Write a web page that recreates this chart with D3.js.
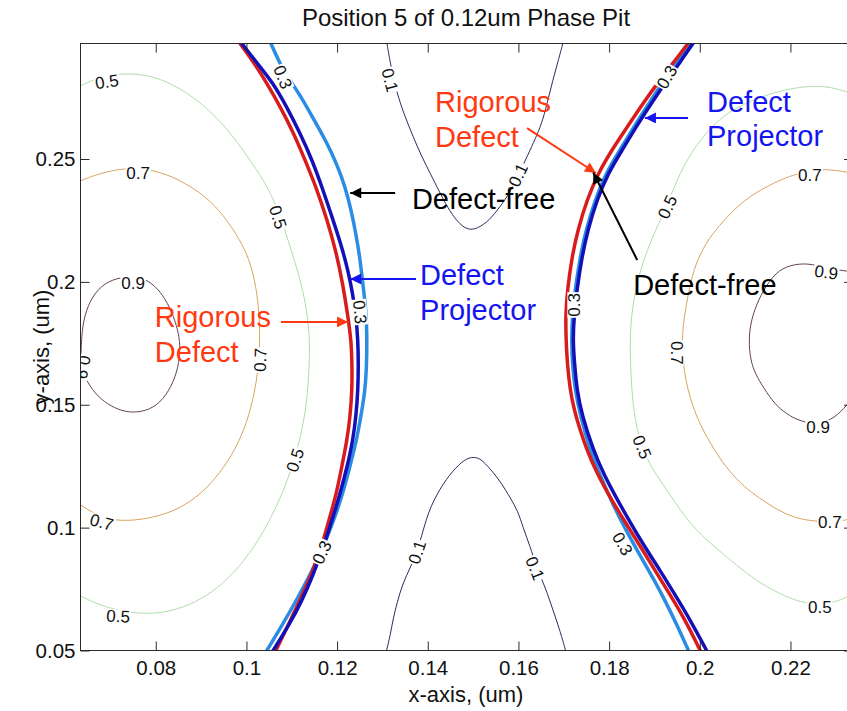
<!DOCTYPE html>
<html>
<head>
<meta charset="utf-8">
<script src="https://cdn.jsdelivr.net/npm/d3@7"></script>
<style>
  body { margin: 0; background: #fff; }
  svg { display: block; font-family: "Liberation Sans", Arial, sans-serif; }
</style>
</head>
<body>
<div id="chart"></div>
<script>
// axis ticks
const xTicks = [0.08, 0.1, 0.12, 0.14, 0.16, 0.18, 0.2, 0.22];
const yTicks = [0.05, 0.1, 0.15, 0.2, 0.25];

// thin contour lines, [x, y] in um
const c01Top = [[0.1310,0.2970],[0.1317,0.2895],[0.1326,0.2813],[0.1335,0.2752],[0.1350,0.2671],[0.1368,0.2590],[0.1385,0.2516],[0.1405,0.2443],[0.1427,0.2362],[0.1443,0.2305],[0.1465,0.2244],[0.1487,0.2211],[0.1509,0.2215],[0.1537,0.2252],[0.1559,0.2305],[0.1581,0.2362],[0.1603,0.2447],[0.1626,0.2537],[0.1641,0.2598],[0.1654,0.2659],[0.1665,0.2740],[0.1676,0.2821],[0.1687,0.2895],[0.1698,0.2970]];
const c01Bottom = [[0.1309,0.0500],[0.1317,0.0559],[0.1323,0.0624],[0.1332,0.0693],[0.1345,0.0774],[0.1361,0.0835],[0.1376,0.0900],[0.1390,0.0990],[0.1405,0.1084],[0.1434,0.1181],[0.1462,0.1246],[0.1487,0.1285],[0.1507,0.1287],[0.1520,0.1275],[0.1544,0.1226],[0.1564,0.1177],[0.1581,0.1124],[0.1599,0.1067],[0.1610,0.1002],[0.1626,0.0921],[0.1639,0.0848],[0.1650,0.0795],[0.1663,0.0738],[0.1676,0.0665],[0.1690,0.0591],[0.1704,0.0500]];
const c05Left = [[0.0634,0.2797],[0.0666,0.2826],[0.0699,0.2842],[0.0737,0.2848],[0.0776,0.2842],[0.0820,0.2821],[0.0882,0.2756],[0.0942,0.2659],[0.0993,0.2537],[0.1030,0.2435],[0.1059,0.2345],[0.1085,0.2211],[0.1107,0.2081],[0.1125,0.1967],[0.1136,0.1845],[0.1140,0.1743],[0.1138,0.1641],[0.1134,0.1519],[0.1123,0.1397],[0.1105,0.1267],[0.1081,0.1145],[0.1052,0.1031],[0.1019,0.0925],[0.0975,0.0819],[0.0926,0.0738],[0.0876,0.0685],[0.0820,0.0653],[0.0765,0.0649],[0.0710,0.0665],[0.0666,0.0693],[0.0634,0.0722]];
const c07Left = [[0.0634,0.2411],[0.0677,0.2443],[0.0732,0.2463],[0.0776,0.2459],[0.0820,0.2443],[0.0882,0.2386],[0.0931,0.2313],[0.0968,0.2223],[0.1001,0.2122],[0.1019,0.2008],[0.1028,0.1886],[0.1030,0.1763],[0.1026,0.1641],[0.1017,0.1540],[0.1001,0.1426],[0.0975,0.1316],[0.0942,0.1222],[0.0898,0.1133],[0.0854,0.1080],[0.0809,0.1047],[0.0750,0.1027],[0.0699,0.1031],[0.0666,0.1055],[0.0634,0.1092]];
const c09Left = [[0.0635,0.1702],[0.0637,0.1804],[0.0646,0.1886],[0.0666,0.1959],[0.0695,0.2004],[0.0732,0.2022],[0.0765,0.2020],[0.0792,0.1995],[0.0816,0.1947],[0.0836,0.1877],[0.0849,0.1804],[0.0854,0.1743],[0.0852,0.1674],[0.0840,0.1593],[0.0816,0.1519],[0.0787,0.1479],[0.0750,0.1466],[0.0717,0.1479],[0.0686,0.1511],[0.0659,0.1560],[0.0642,0.1621]];
const c05Right = [[0.2338,0.2765],[0.2325,0.2773],[0.2287,0.2793],[0.2259,0.2797],[0.2221,0.2793],[0.2177,0.2777],[0.2133,0.2752],[0.2089,0.2716],[0.2058,0.2683],[0.2023,0.2626],[0.1985,0.2537],[0.1957,0.2447],[0.1928,0.2313],[0.1903,0.2211],[0.1884,0.2130],[0.1868,0.2040],[0.1857,0.1955],[0.1848,0.1845],[0.1846,0.1743],[0.1848,0.1621],[0.1853,0.1491],[0.1862,0.1397],[0.1873,0.1328],[0.1890,0.1255],[0.1912,0.1194],[0.1948,0.1096],[0.1985,0.1002],[0.2023,0.0937],[0.2060,0.0880],[0.2102,0.0815],[0.2148,0.0758],[0.2188,0.0722],[0.2221,0.0697],[0.2265,0.0685],[0.2298,0.0697],[0.2325,0.0717],[0.2338,0.0734]];
const c07Right = [[0.2338,0.2439],[0.2325,0.2447],[0.2294,0.2455],[0.2265,0.2459],[0.2232,0.2447],[0.2206,0.2435],[0.2173,0.2411],[0.2133,0.2374],[0.2093,0.2325],[0.2060,0.2264],[0.2027,0.2195],[0.2001,0.2117],[0.1983,0.2028],[0.1972,0.1926],[0.1963,0.1824],[0.1961,0.1743],[0.1965,0.1641],[0.1974,0.1560],[0.1985,0.1491],[0.2001,0.1418],[0.2023,0.1344],[0.2049,0.1267],[0.2082,0.1194],[0.2115,0.1141],[0.2148,0.1100],[0.2177,0.1067],[0.2206,0.1043],[0.2243,0.1027],[0.2287,0.1023],[0.2325,0.1031],[0.2338,0.1039]];
const c09Right = [[0.2338,0.2040],[0.2309,0.2048],[0.2279,0.2056],[0.2239,0.2077],[0.2199,0.2069],[0.2168,0.2040],[0.2140,0.1967],[0.2120,0.1886],[0.2109,0.1804],[0.2109,0.1723],[0.2115,0.1662],[0.2126,0.1613],[0.2148,0.1548],[0.2171,0.1491],[0.2199,0.1454],[0.2221,0.1434],[0.2261,0.1418],[0.2298,0.1446],[0.2325,0.1499],[0.2338,0.1531]];

// 0.3 intensity edges: rigorous defect, defect projector, defect-free
const rigorousLeft = [[0.0986,0.2970],[0.1017,0.2891],[0.1045,0.2809],[0.1076,0.2708],[0.1105,0.2602],[0.1131,0.2488],[0.1156,0.2374],[0.1178,0.2252],[0.1198,0.2122],[0.1213,0.1987],[0.1224,0.1857],[0.1231,0.1763],[0.1233,0.1662],[0.1233,0.1560],[0.1229,0.1458],[0.1222,0.1356],[0.1211,0.1255],[0.1199,0.1141],[0.1182,0.1031],[0.1165,0.0917],[0.1143,0.0807],[0.1118,0.0705],[0.1092,0.0603],[0.1065,0.0500]];
const projectorLeft = [[0.0990,0.2970],[0.1023,0.2891],[0.1059,0.2809],[0.1090,0.2708],[0.1118,0.2606],[0.1145,0.2496],[0.1169,0.2374],[0.1191,0.2252],[0.1209,0.2150],[0.1224,0.2048],[0.1235,0.1947],[0.1242,0.1853],[0.1246,0.1763],[0.1247,0.1662],[0.1246,0.1560],[0.1242,0.1458],[0.1235,0.1356],[0.1222,0.1246],[0.1207,0.1141],[0.1189,0.1031],[0.1169,0.0917],[0.1147,0.0807],[0.1123,0.0705],[0.1094,0.0603],[0.1059,0.0500]];
const freeLeft = [[0.1054,0.2970],[0.1072,0.2895],[0.1092,0.2830],[0.1114,0.2773],[0.1147,0.2667],[0.1178,0.2565],[0.1200,0.2476],[0.1218,0.2386],[0.1231,0.2292],[0.1242,0.2191],[0.1251,0.2089],[0.1257,0.1987],[0.1264,0.1886],[0.1266,0.1763],[0.1265,0.1662],[0.1262,0.1560],[0.1253,0.1458],[0.1243,0.1356],[0.1229,0.1255],[0.1213,0.1141],[0.1193,0.1031],[0.1167,0.0909],[0.1138,0.0799],[0.1107,0.0693],[0.1076,0.0595],[0.1045,0.0500]];
const rigorousRight = [[0.1974,0.2970],[0.1943,0.2895],[0.1912,0.2821],[0.1875,0.2728],[0.1840,0.2630],[0.1806,0.2537],[0.1776,0.2443],[0.1751,0.2333],[0.1731,0.2211],[0.1718,0.2101],[0.1708,0.1967],[0.1704,0.1865],[0.1705,0.1763],[0.1708,0.1662],[0.1714,0.1560],[0.1723,0.1479],[0.1736,0.1397],[0.1751,0.1316],[0.1773,0.1222],[0.1802,0.1124],[0.1835,0.1023],[0.1870,0.0921],[0.1901,0.0827],[0.1932,0.0734],[0.1968,0.0624],[0.2001,0.0500]];
const projectorRight = [[0.1985,0.2970],[0.1957,0.2895],[0.1928,0.2821],[0.1895,0.2732],[0.1862,0.2638],[0.1829,0.2537],[0.1798,0.2443],[0.1773,0.2333],[0.1753,0.2211],[0.1740,0.2101],[0.1729,0.1967],[0.1723,0.1865],[0.1720,0.1763],[0.1724,0.1662],[0.1729,0.1560],[0.1740,0.1458],[0.1765,0.1316],[0.1789,0.1214],[0.1815,0.1124],[0.1846,0.1023],[0.1879,0.0921],[0.1912,0.0827],[0.1943,0.0734],[0.1979,0.0624],[0.2015,0.0500]];
const freeRight = [[0.1979,0.2970],[0.1950,0.2895],[0.1921,0.2821],[0.1890,0.2732],[0.1857,0.2638],[0.1824,0.2537],[0.1793,0.2443],[0.1769,0.2333],[0.1749,0.2211],[0.1736,0.2101],[0.1725,0.1967],[0.1719,0.1865],[0.1717,0.1763],[0.1719,0.1662],[0.1725,0.1560],[0.1736,0.1458],[0.1758,0.1316],[0.1780,0.1214],[0.1809,0.1092],[0.1837,0.0990],[0.1868,0.0888],[0.1897,0.0795],[0.1923,0.0705],[0.1950,0.0603],[0.1975,0.0500]];

// inline contour labels: text, x, y, angle
const contourLabels = [
  ['0.5', 0.0692, 0.2815, -8], ['0.7', 0.0761, 0.2443, 0], ['0.9', 0.0750, 0.1997, 0],
  ['0.9', 0.0640, 0.1653, 100], ['0.5', 0.1070, 0.2264, 72], ['0.7', 0.1030, 0.1682, -88],
  ['0.5', 0.1107, 0.1275, -72], ['0.7', 0.0681, 0.1023, 15], ['0.5', 0.0717, 0.0640, 3],
  ['0.3', 0.1081, 0.2834, 68], ['0.3', 0.1251, 0.1877, 85], ['0.3', 0.1166, 0.0900, -65],
  ['0.1', 0.1317, 0.2821, 75], ['0.1', 0.1599, 0.2435, -65], ['0.1', 0.1376, 0.0900, -72],
  ['0.1', 0.1637, 0.0835, 68], ['0.3', 0.1927, 0.2834, -60], ['0.3', 0.1723, 0.1906, -90],
  ['0.3', 0.1830, 0.0935, 60], ['0.5', 0.1928, 0.2305, -65], ['0.5', 0.1873, 0.1328, 68],
  ['0.5', 0.2265, 0.0678, 0], ['0.7', 0.2243, 0.2435, 0], ['0.7', 0.1950, 0.1711, 90],
  ['0.7', 0.2287, 0.1023, 0], ['0.9', 0.2279, 0.2040, 8], ['0.9', 0.2261, 0.1409, 0]
];

// annotations: lines of text anchored at x, y (um)
const notes = [
  { kind: 'rigorous', lines: ['Rigorous', 'Defect'], x: 0.0798, y: [0.1816, 0.1674] },
  { kind: 'free', lines: ['Defect-free'], x: 0.1365, y: [0.2297] },
  { kind: 'projector', lines: ['Defect', 'Projector'], x: 0.1383, y: [0.1987, 0.1845] },
  { kind: 'rigorous', lines: ['Rigorous', 'Defect'], x: 0.1416, y: [0.2691, 0.2549] },
  { kind: 'projector', lines: ['Defect', 'Projector'], x: 0.2016, y: [0.2691, 0.2553] },
  { kind: 'free', lines: ['Defect-free'], x: 0.1853, y: [0.1947] }
];
const arrows = [
  { kind: 'rigorous', from: [0.1076, 0.1837], to: [0.1224, 0.1837] },
  { kind: 'free', from: [0.1328, 0.2362], to: [0.1229, 0.2362] },
  { kind: 'projector', from: [0.1374, 0.2012], to: [0.1229, 0.2012] },
  { kind: 'rigorous', from: [0.1619, 0.2626], to: [0.1771, 0.2443] },
  { kind: 'projector', from: [0.1974, 0.2667], to: [0.1879, 0.2667] },
  { kind: 'free', from: [0.1862, 0.2089], to: [0.1765, 0.2445] }
];

const noteColor = { rigorous: '#ff3a12', projector: '#1515f0', free: '#000' };

const width = 847, height = 711;
const x = d3.scaleLinear().domain([0.0634, 0.2338]).range([80.5, 853]);
const y = d3.scaleLinear().domain([0.05, 0.297]).range([650.5, 43.5]);

const svg = d3.select('#chart').append('svg')
  .attr('width', width).attr('height', height);

const defs = svg.append('defs');
defs.append('clipPath').attr('id', 'plot-clip')
  .append('rect')
  .attr('x', x.range()[0]).attr('y', y.range()[1])
  .attr('width', x.range()[1] - x.range()[0])
  .attr('height', y.range()[0] - y.range()[1]);

Object.entries(noteColor).forEach(([k, c]) => {
  defs.append('marker')
    .attr('id', 'head-' + k)
    .attr('viewBox', '0 0 10 10')
    .attr('refX', 10).attr('refY', 5)
    .attr('markerWidth', 15).attr('markerHeight', 11)
    .attr('markerUnits', 'userSpaceOnUse')
    .attr('orient', 'auto')
    .append('path').attr('d', 'M0,0L10,5L0,10z').attr('fill', c);
});

const line = d3.line()
  .x(d => x(d[0]))
  .y(d => y(d[1]))
  .curve(d3.curveBasis);

const plot = svg.append('g').attr('clip-path', 'url(#plot-clip)');

// thin contour lines
const thin = [
  { pts: c01Top, color: '#2c2c60' }, { pts: c01Bottom, color: '#2c2c60' },
  { pts: c05Left, color: '#b0dcaa' }, { pts: c05Right, color: '#b0dcaa' },
  { pts: c07Left, color: '#d9a35f' }, { pts: c07Right, color: '#d9a35f' },
  { pts: c09Left, color: '#654054' }, { pts: c09Right, color: '#654054' }
];
plot.selectAll('path.thin').data(thin).join('path')
  .attr('class', 'thin')
  .attr('d', d => line(d.pts))
  .attr('fill', 'none')
  .attr('stroke', d => d.color)
  .attr('stroke-width', 1);

// thick 0.3 edges
const thick = [
  { pts: freeLeft, color: '#2a8ce2' }, { pts: freeRight, color: '#2a8ce2' },
  { pts: rigorousLeft, color: '#d81c1c' }, { pts: rigorousRight, color: '#d81c1c' },
  { pts: projectorLeft, color: '#1410b8' }, { pts: projectorRight, color: '#1410b8' }
];
plot.selectAll('path.thick').data(thick).join('path')
  .attr('class', 'thick')
  .attr('d', d => line(d.pts))
  .attr('fill', 'none')
  .attr('stroke', d => d.color)
  .attr('stroke-width', 3.5)
  .attr('stroke-linecap', 'round');

// contour labels with a white gap behind them
const lab = plot.selectAll('g.clabel').data(contourLabels).join('g')
  .attr('class', 'clabel')
  .attr('transform', d => `translate(${x(d[1])},${y(d[2])}) rotate(${d[3]})`);
lab.append('text')
  .attr('text-anchor', 'middle')
  .attr('dy', '0.36em')
  .attr('font-size', 17)
  .attr('fill', '#111')
  .text(d => d[0]);
lab.each(function() {
  const g = d3.select(this);
  const bb = g.select('text').node().getBBox();
  g.insert('rect', 'text')
    .attr('x', bb.x - 1).attr('y', bb.y + 2)
    .attr('width', bb.width + 2).attr('height', bb.height - 4)
    .attr('fill', '#fff');
});

// axes box and ticks
const axisColor = '#2a2a2a';
svg.append('rect')
  .attr('x', x.range()[0]).attr('y', y.range()[1])
  .attr('width', x.range()[1] - x.range()[0])
  .attr('height', y.range()[0] - y.range()[1])
  .attr('fill', 'none').attr('stroke', axisColor).attr('stroke-width', 1);

const gx = svg.append('g')
  .attr('transform', `translate(0,${y.range()[0]})`)
  .call(d3.axisBottom(x).tickValues(xTicks).tickFormat(d => d)
    .tickSizeInner(-9).tickSizeOuter(0).tickPadding(10));
const gxTop = svg.append('g')
  .attr('transform', `translate(0,${y.range()[1]})`)
  .call(d3.axisTop(x).tickValues(xTicks).tickFormat('')
    .tickSizeInner(-9).tickSizeOuter(0));
const gy = svg.append('g')
  .attr('transform', `translate(${x.range()[0]},0)`)
  .call(d3.axisLeft(y).tickValues(yTicks).tickFormat(d => d)
    .tickSizeInner(-9).tickSizeOuter(0).tickPadding(5));
const gyRight = svg.append('g')
  .attr('transform', `translate(${x.range()[1]},0)`)
  .call(d3.axisRight(y).tickValues(yTicks).tickFormat('')
    .tickSizeInner(-9).tickSizeOuter(0));

[gx, gxTop, gy, gyRight].forEach(g => {
  g.select('.domain').remove();
  g.selectAll('line').attr('stroke', axisColor);
  g.selectAll('text')
    .attr('fill', '#111')
    .attr('font-size', 20.5)
    .attr('font-family', '"Liberation Sans", Arial, sans-serif');
});

// titles
svg.append('text')
  .attr('x', 466).attr('y', 26)
  .attr('text-anchor', 'middle')
  .attr('font-size', 24).attr('fill', '#111')
  .text('Position 5 of 0.12um Phase Pit');
svg.append('text')
  .attr('x', 466).attr('y', 702)
  .attr('text-anchor', 'middle')
  .attr('font-size', 22).attr('fill', '#111')
  .text('x-axis, (um)');
svg.append('text')
  .attr('transform', 'translate(49,347) rotate(-90)')
  .attr('text-anchor', 'middle')
  .attr('font-size', 22).attr('fill', '#111')
  .text('y-axis, (um)');

// annotation arrows and text
svg.selectAll('line.arrow').data(arrows).join('line')
  .attr('class', 'arrow')
  .attr('x1', d => x(d.from[0])).attr('y1', d => y(d.from[1]))
  .attr('x2', d => x(d.to[0])).attr('y2', d => y(d.to[1]))
  .attr('stroke', d => noteColor[d.kind])
  .attr('stroke-width', 2)
  .attr('marker-end', d => `url(#head-${d.kind})`);

notes.forEach(n => {
  n.lines.forEach((t, i) => {
    svg.append('text')
      .attr('x', x(n.x)).attr('y', y(n.y[i]))
      .attr('font-size', 29)
      .attr('fill', noteColor[n.kind])
      .text(t);
  });
});
</script>
</body>
</html>
